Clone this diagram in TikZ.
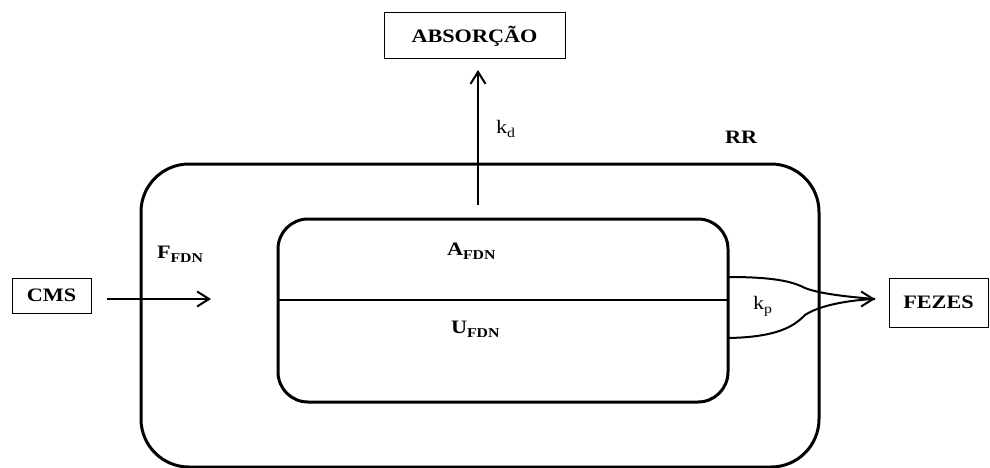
\documentclass[tikz,border=0pt]{standalone}
\usepackage{fontspec}
\setmainfont{Liberation Serif}[FakeStretch=1.17]
\usetikzlibrary{arrows.meta}
\newcommand{\bigtxt}{\fontsize{19}{21}\selectfont}
\newcommand{\subtxt}{\fontsize{13.5}{15}\selectfont}
\newcommand{\withsub}[2]{{\bigtxt #1}\raisebox{-4pt}{\subtxt #2}}
\tikzset{
  box/.style={draw, line width=1pt, inner sep=0pt, outer sep=0pt, font=\bigtxt\bfseries},
  compart/.style={draw, line width=3pt, inner sep=0pt, outer sep=0pt},
  lbl/.style={anchor=base west, inner sep=0pt, outer sep=0pt},
  arr/.style={line width=2pt, -{Straight Barb[length=12pt,width=15pt,line width=2pt]}},
  flowline/.style={line width=2pt}
}
\begin{document}
\begin{tikzpicture}[x=1pt,y=-1pt]
\useasboundingbox (0,0) rectangle (990,468);
% boxes
\node[box, minimum width=181pt, minimum height=46pt] (abs) at (474.5,36) {ABSORÇÃO};
\node[box, minimum width=79pt, minimum height=35pt] (cms) at (51.5,295.5) {CMS};
\node[box, minimum width=99pt, minimum height=49pt] (fez) at (938.5,302.5) {FEZES};
% compartments
\node[compart, rounded corners=48pt, minimum width=678pt, minimum height=303pt] (outer) at (480,315.5) {};
\node[compart, rounded corners=30pt, minimum width=450pt, minimum height=183pt] (inner) at (503,310.5) {};
\draw[flowline] ([yshift=10.5pt]inner.west) -- ([yshift=10.5pt]inner.east);
% labels
\node[lbl] (rr) at (725,143) {\bigtxt\bfseries RR};
\node[lbl] (ffdn) at (157,258) {\bfseries\withsub{F}{FDN}};
\node[lbl] (afdn) at (447,255) {\bfseries\withsub{A}{FDN}};
\node[lbl] (ufdn) at (451,333) {\bfseries\withsub{U}{FDN}};
\node[lbl] (kd) at (496,133) {\withsub{k}{d}};
\node[lbl] (kp) at (753,309) {\withsub{k}{p}};
% connectors
\coordinate (cmsstart) at (107,299);
\coordinate (cmsend) at (211,299);
\draw[arr] (cmsstart) -- (cmsend);
\coordinate (kdstart) at (478,205);
\coordinate (kdend) at (478,70);
\draw[arr] (kdstart) -- (kdend);
\coordinate (tip) at (875,299);
\coordinate (up) at (729,277);
\coordinate (lo) at (729,338);
\draw[flowline] (up) .. controls (780,277) and (795,283) .. (805,288) .. controls (820,294) and (850,297) .. (tip);
\draw[flowline] (lo) .. controls (780,337) and (795,325) .. (805,315) .. controls (820,305) and (850,300) .. (tip);
\draw[arr] (860,299) -- (tip);
\end{tikzpicture}
\end{document}
